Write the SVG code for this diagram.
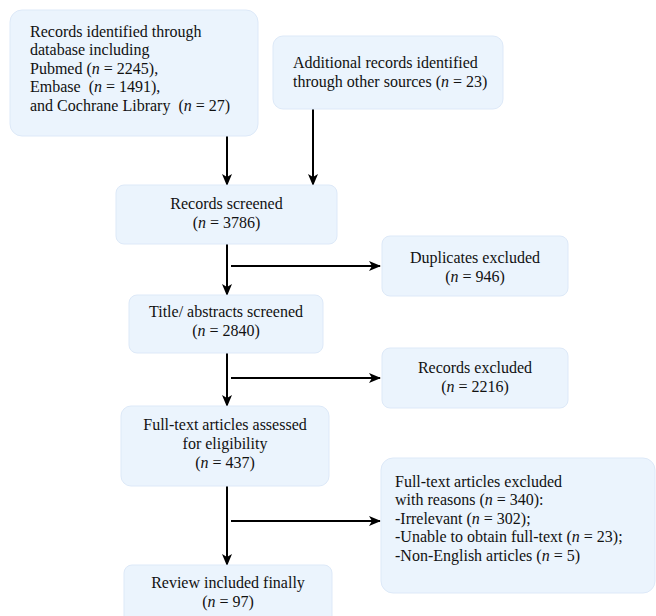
<svg xmlns="http://www.w3.org/2000/svg" width="656" height="616" viewBox="0 0 656 616" font-family="'Liberation Serif', 'Times New Roman', 'DejaVu Serif', serif">
<defs>
<style>
.box{fill:#ebf4fd;stroke:#dde9f8;stroke-width:1}
text{font-family:'Liberation Serif','Times New Roman','DejaVu Serif',serif;font-size:16px;fill:#111;white-space:pre}
.c{text-anchor:middle}
.i{font-style:italic}
.ln{stroke:#000;stroke-width:2;fill:none;marker-end:url(#ah)}
</style>
<marker id="ah" viewBox="0 0 12 10" refX="11" refY="5" markerWidth="12" markerHeight="10" markerUnits="userSpaceOnUse" orient="auto">
<path d="M0,0 L12,5 L0,10 L3,5 Z" fill="#000"/>
</marker>
</defs>
<rect width="656" height="616" fill="#fff"/>
<g id="connectors">
<line class="ln" x1="227" y1="136" x2="227" y2="185"/>
<line class="ln" x1="313" y1="109" x2="313" y2="185"/>
<line class="ln" x1="227" y1="244" x2="227" y2="295"/>
<line class="ln" x1="231" y1="266" x2="380" y2="266"/>
<line class="ln" x1="227" y1="353" x2="227" y2="406"/>
<line class="ln" x1="231" y1="378" x2="380" y2="378"/>
<line class="ln" x1="227" y1="486" x2="227" y2="565"/>
<line class="ln" x1="231" y1="521" x2="380" y2="521"/>
</g>
<g id="n1">
<rect class="box" x="10" y="10" width="248" height="126" rx="12"/>
<text x="30" y="36.5">Records identified through</text>
<text x="30" y="55">database including</text>
<text x="30" y="73.5">Pubmed (<tspan class="i">n</tspan> = 2245),</text>
<text x="30" y="92" xml:space="preserve">Embase  (<tspan class="i">n</tspan> = 1491),</text>
<text x="30" y="110.5" xml:space="preserve">and Cochrane Library  (<tspan class="i">n</tspan> = 27)</text>
</g>
<g id="n2">
<rect class="box" x="273" y="36" width="230" height="73" rx="10"/>
<text x="293" y="68">Additional records identified</text>
<text x="293" y="86.5">through other sources (<tspan class="i">n</tspan> = 23)</text>
</g>
<g id="n3">
<rect class="box" x="116" y="185" width="221" height="59" rx="8"/>
<text class="c" x="226.5" y="209">Records screened</text>
<text class="c" x="226.5" y="228">(<tspan class="i">n</tspan> = 3786)</text>
</g>
<g id="n4">
<rect class="box" x="382" y="236" width="186" height="60" rx="8"/>
<text class="c" x="475" y="262.5">Duplicates excluded</text>
<text class="c" x="475" y="281.5">(<tspan class="i">n</tspan> = 946)</text>
</g>
<g id="n5">
<rect class="box" x="129" y="295" width="194" height="58" rx="8"/>
<text class="c" x="226" y="317">Title/ abstracts screened</text>
<text class="c" x="226" y="336">(<tspan class="i">n</tspan> = 2840)</text>
</g>
<g id="n6">
<rect class="box" x="382" y="348" width="186" height="60" rx="8"/>
<text class="c" x="475" y="372.5">Records excluded</text>
<text class="c" x="475" y="391.5">(<tspan class="i">n</tspan> = 2216)</text>
</g>
<g id="n7">
<rect class="box" x="121" y="406" width="208" height="80" rx="10"/>
<text class="c" x="225" y="430">Full-text articles assessed</text>
<text class="c" x="225" y="449">for eligibility</text>
<text class="c" x="225" y="468">(<tspan class="i">n</tspan> = 437)</text>
</g>
<g id="n8">
<rect class="box" x="381" y="458" width="274" height="135" rx="12"/>
<text x="395" y="486.5">Full-text articles excluded</text>
<text x="395" y="505">with reasons (<tspan class="i">n</tspan> = 340):</text>
<text x="395" y="523.5">-Irrelevant (<tspan class="i">n</tspan> = 302);</text>
<text x="395" y="542">-Unable to obtain full-text (<tspan class="i">n</tspan> = 23);</text>
<text x="395" y="560.5">-Non-English articles (<tspan class="i">n</tspan> = 5)</text>
</g>
<g id="n9">
<rect class="box" x="124" y="565" width="208" height="60" rx="8"/>
<text class="c" x="228" y="588">Review included finally</text>
<text class="c" x="228" y="607">(<tspan class="i">n</tspan> = 97)</text>
</g>
</svg>
